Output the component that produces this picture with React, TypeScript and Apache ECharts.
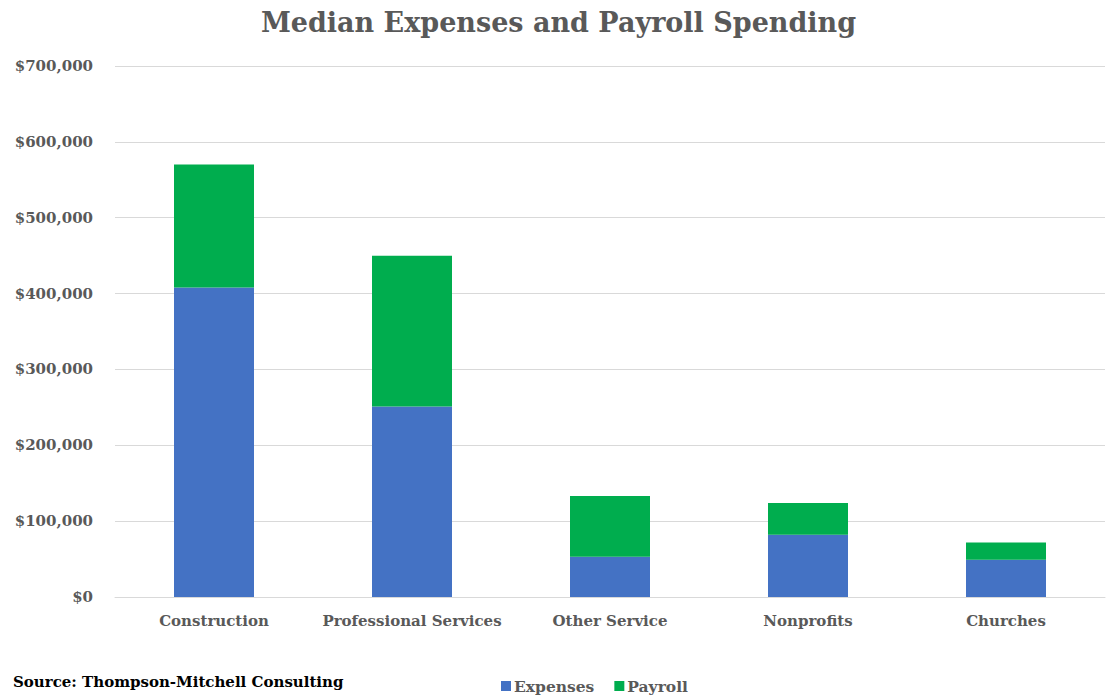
import React, { useEffect, useRef } from "react";
import * as echarts from "echarts";

const categories = ["Construction", "Professional Services", "Other Service", "Nonprofits", "Churches"];
const expenses = [408000, 251000, 53000, 82000, 49000];
const payroll = [162000, 199000, 80000, 42000, 23000];
const yTicks = { min: 0, max: 700000, interval: 100000 };

const FONT = "DejaVu Serif";
const GRAY = "#595959";

export default function App() {
  const ref = useRef<HTMLDivElement>(null);
  useEffect(() => {
    const chart = echarts.init(ref.current!, undefined, { renderer: "svg" });
    chart.setOption({
      animation: false,
      backgroundColor: "#ffffff",
      title: {
        text: "Median Expenses and Payroll Spending",
        left: "center",
        top: 4,
        textStyle: { fontFamily: FONT, fontWeight: "bold", fontSize: 27, color: GRAY },
      },
      graphic: [
        {
          type: "text",
          left: 13,
          top: 674,
          style: {
            text: "Source: Thompson-Mitchell Consulting",
            fontFamily: FONT,
            fontWeight: "bold",
            fontSize: 15,
            fill: "#000000",
          },
        },
      ],
      legend: {
        left: 496,
        top: 673,
        itemWidth: 10,
        itemHeight: 10,
        itemGap: 20,
        icon: "rect",
        textStyle: { fontFamily: FONT, fontWeight: "bold", fontSize: 15.5, color: GRAY, padding: [0, 0, 0, -2] },
        data: ["Expenses", "Payroll"],
      },
      grid: { left: 115, right: 12, top: 66, bottom: 101, containLabel: false },
      xAxis: {
        type: "category",
        data: categories,
        axisLine: { show: true, lineStyle: { color: "#d9d9d9", width: 1 } },
        axisTick: { show: false },
        axisLabel: { interval: 0, fontFamily: FONT, fontWeight: "bold", fontSize: 15, color: GRAY, margin: 16 },
      },
      yAxis: {
        type: "value",
        min: yTicks.min,
        max: yTicks.max,
        interval: yTicks.interval,
        axisLine: { show: false },
        axisTick: { show: false },
        splitLine: { lineStyle: { color: "#d9d9d9", width: 1 } },
        axisLabel: {
          fontFamily: FONT,
          fontWeight: "bold",
          fontSize: 15,
          color: GRAY,
          margin: 22,
          formatter: (v: number) => "$" + v.toLocaleString("en-US"),
        },
      },
      series: [
        {
          name: "Expenses",
          type: "bar",
          stack: "total",
          data: expenses,
          barWidth: 80,
          itemStyle: { color: "#4472c4" },
        },
        {
          name: "Payroll",
          type: "bar",
          stack: "total",
          data: payroll,
          barWidth: 80,
          itemStyle: { color: "#00ad4e" },
        },
      ],
    });
    return () => chart.dispose();
  }, []);
  return (
    <div
      ref={ref}
      style={{ position: "fixed", left: 0, top: 0, width: 1117, height: 698 }}
    />
  );
}
